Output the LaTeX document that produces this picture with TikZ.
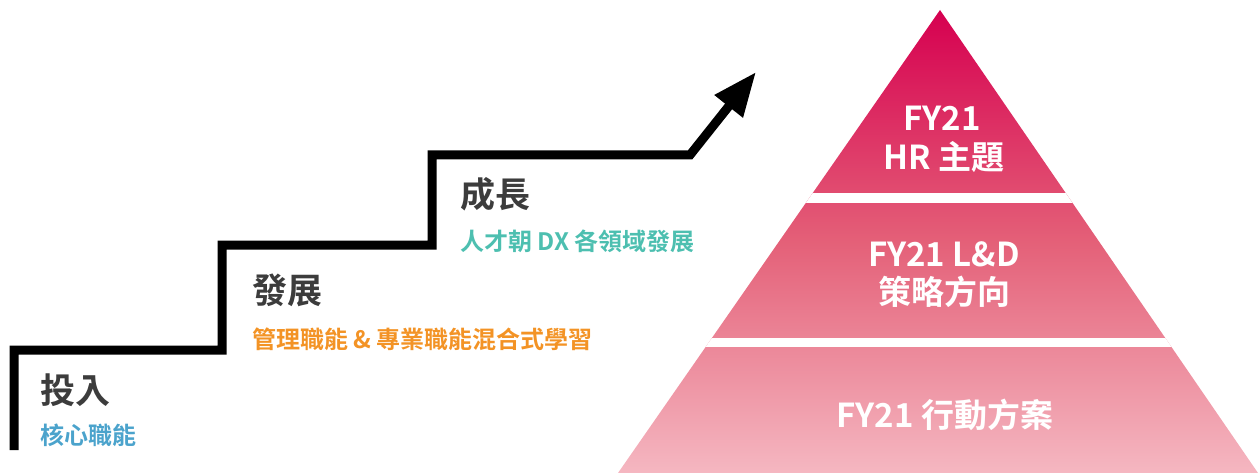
\documentclass[tikz,border=0pt]{standalone}
\usepackage{fontspec}
\setmainfont{Noto Sans CJK TC}[BoldFont={Noto Sans CJK TC Bold}]
\usetikzlibrary{arrows.meta}
\definecolor{darktxt}{RGB}{60,60,60}
\definecolor{bluetxt}{RGB}{75,163,204}
\definecolor{orangetxt}{RGB}{243,147,37}
\definecolor{tealtxt}{RGB}{77,191,176}
\definecolor{pyrtop}{RGB}{214,0,80}
\definecolor{pyrmid}{RGB}{228,96,120}
\definecolor{pyrbot}{RGB}{245,183,193}
\tikzset{
  title/.style={anchor=west,inner sep=0pt,text=darktxt,font=\fontsize{35}{38}\selectfont\bfseries},
  subtitle/.style={anchor=west,inner sep=0pt,font=\fontsize{24}{26}\selectfont\bfseries},
  pyrtext/.style={inner sep=0pt,text=white,font=\fontsize{33}{35}\selectfont\bfseries},
  stair/.style={line width=9pt,black,miter limit=10,line join=miter,
    -{Triangle[length=44pt,width=34pt]}}
}
\begin{document}
\begin{tikzpicture}[x=1pt,y=-1pt]
\useasboundingbox (0,0) rectangle (1258,473);
% staircase
\coordinate (s0) at (14,450);
\coordinate (s1) at (14,350);
\coordinate (s2) at (222,350);
\coordinate (s3) at (222,245);
\coordinate (s4) at (432,245);
\coordinate (s5) at (432,155);
\coordinate (s6) at (690,155);
\coordinate (tip) at (756,72);
\draw[stair] (s0) -- (s1) -- (s2) -- (s3) -- (s4) -- (s5) -- (s6) -- (tip);
% pyramid
\coordinate (apex) at (940,10);
\coordinate (bl) at (618,473);
\coordinate (br) at (1258,473);
\begin{scope}
  \clip (apex) -- (br) -- (bl) -- cycle;
  \shade[top color=pyrtop, bottom color=pyrbot, middle color=pyrmid] (600,10) rectangle (1258,473);
  \fill[white] (600,193) rectangle (1258,203);
  \fill[white] (600,338) rectangle (1258,347);
\end{scope}
% texts
\node[title] (t1) at (40,390) {投入};
\node[subtitle,text=bluetxt] (s1t) at (40,435) {核心職能};
\node[title] (t2) at (252,290) {發展};
\node[subtitle,text=orangetxt] (s2t) at (252,339) {管理職能 \& 專業職能混合式學習};
\node[title] (t3) at (460,194) {成長};
\node[subtitle,text=tealtxt] (s3t) at (460,241) {人才朝 DX 各領域發展};
\node[pyrtext] (p1a) at (942,118) {FY21};
\node[pyrtext] (p1b) at (944,157) {HR 主題};
\node[pyrtext] (p2a) at (944,254) {FY21 L\&D};
\node[pyrtext] (p2b) at (944,292) {策略方向};
\node[pyrtext] (p3) at (945,415) {FY21 行動方案};
\end{tikzpicture}
\end{document}
